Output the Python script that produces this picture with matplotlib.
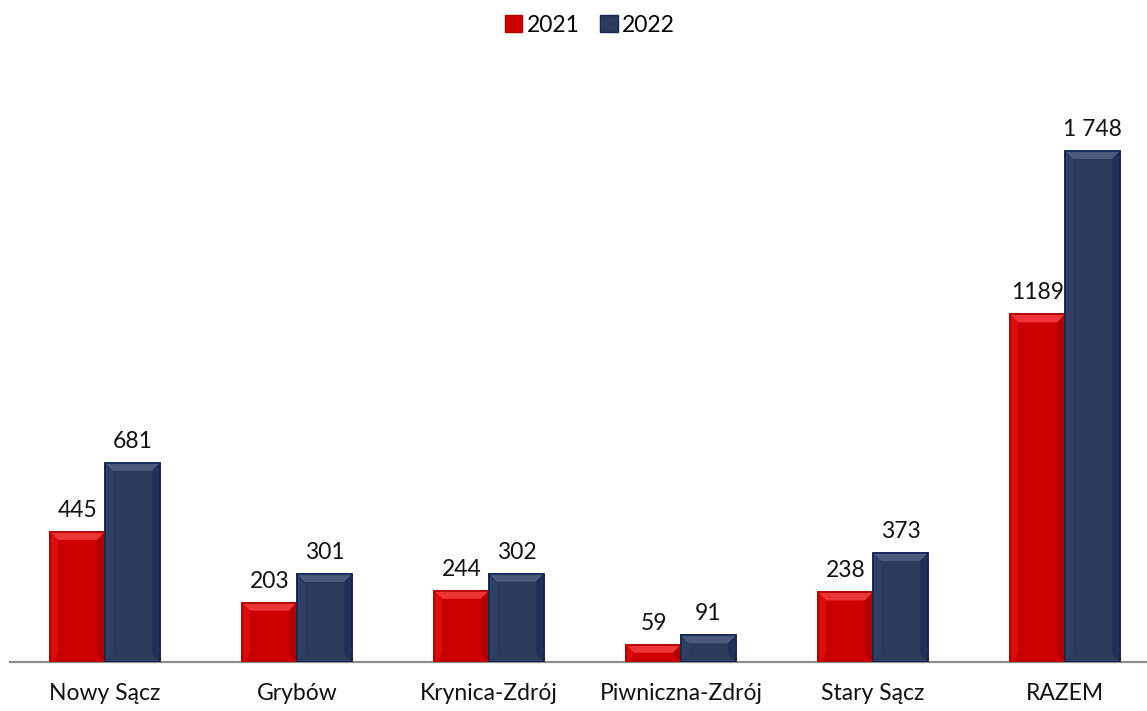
import matplotlib
matplotlib.use("Agg")
import matplotlib.pyplot as plt
from matplotlib.patches import Polygon, Patch
import numpy as np

categories = ["Nowy Sącz", "Grybów", "Krynica-Zdrój", "Piwniczna-Zdrój", "Stary Sącz", "RAZEM"]
series_names = ["2021", "2022"]
values_2021 = [445, 203, 244, 59, 238, 1189]
values_2022 = [681, 301, 302, 91, 373, 1748]

plt.rcParams['font.family'] = ['Lato', 'DejaVu Sans']

W, H = 1147, 711
fig = plt.figure(figsize=(W / 100, H / 100), dpi=100)

# axes box in pixels: baseline at y=662, left edge at x=10
ymax = 2000
px_per_unit = 511 / 1748
ax_h = ymax * px_per_unit
ax = fig.add_axes([10 / W, (H - 662) / H, (W - 10) / W, ax_h / H])

x = np.arange(len(categories))
bw = 0.286
xlim = (-(105 - 10) / 192, 5 + (W - 1065) / 192)
ax.set_xlim(*xlim)
ax.set_ylim(0, ymax)

styles = [
    dict(face="#CC0000", top="#EE3535", side="#A80000", edge="#B00000", light="#E01515"),
    dict(face="#2C3B5B", top="#4A5A7C", side="#1B2A52", edge="#14265A", light="#34446A"),
]


def fmt_2021(v):
    return f"{v}"


def fmt_2022(v):
    return f"{v:,}".replace(",", " ")


fmts = [fmt_2021, fmt_2022]
data = [values_2021, values_2022]
offsets = [-bw / 2, bw / 2]

# conversion of pixel bevel size into data units
dx_unit = (xlim[1] - xlim[0]) / (W - 10)
dy_unit = 1 / px_per_unit
bev_px = 8

for vals, off, st, fmt in zip(data, offsets, styles, fmts):
    bars = ax.bar(x + off, vals, width=bw, color=st["face"], edgecolor=st["edge"],
                  linewidth=1.2, zorder=3)
    for b, v in zip(bars, vals):
        x0 = b.get_x()
        x1 = x0 + b.get_width()
        top = b.get_height()
        dx = bev_px * dx_unit
        dy = min(bev_px * dy_unit, top / 2)
        # bevel: top highlight, lighter left side, darker right side
        ax.add_patch(Polygon([(x0, top), (x1, top), (x1 - dx, top - dy), (x0 + dx, top - dy)],
                             closed=True, facecolor=st["top"], edgecolor="none", zorder=4))
        ax.add_patch(Polygon([(x0, top), (x0 + dx, top - dy), (x0 + dx, dy), (x0, 0)],
                             closed=True, facecolor=st["light"], edgecolor="none", zorder=4, alpha=0.6))
        ax.add_patch(Polygon([(x1, top), (x1 - dx, top - dy), (x1 - dx, dy), (x1, 0)],
                             closed=True, facecolor=st["side"], edgecolor="none", zorder=4, alpha=0.7))
        ax.add_patch(Polygon([(x0, top), (x1, top), (x1, 0), (x0, 0)], closed=True,
                             facecolor="none", edgecolor=st["edge"], linewidth=1.2, zorder=5))
        ax.annotate(fmt(v), (b.get_x() + b.get_width() / 2, top), xytext=(0, 8),
                    textcoords="offset points", ha="center", va="bottom",
                    fontsize=16.5, color="#111111", zorder=6)

for s in ["top", "right", "left"]:
    ax.spines[s].set_visible(False)
ax.spines["bottom"].set_color("#8C8C8C")
ax.spines["bottom"].set_linewidth(1.6)
ax.spines["bottom"].set_zorder(2)
ax.set_yticks([])
ax.set_xticks(x)
ax.set_xticklabels(categories, fontsize=16.5, color="#111111")
ax.tick_params(axis="x", length=0, pad=15)

handles = [Patch(facecolor=styles[0]["face"], edgecolor=styles[0]["edge"]),
           Patch(facecolor=styles[1]["face"], edgecolor=styles[1]["edge"])]
fig.legend(handles, series_names, loc="center", bbox_to_anchor=(590 / W, 1 - 25 / H),
           ncol=2, frameon=False, fontsize=16.5, handlelength=0.75, handleheight=0.75,
           handletextpad=0.2, columnspacing=0.9)

fig.savefig("out.png", dpi=100)
